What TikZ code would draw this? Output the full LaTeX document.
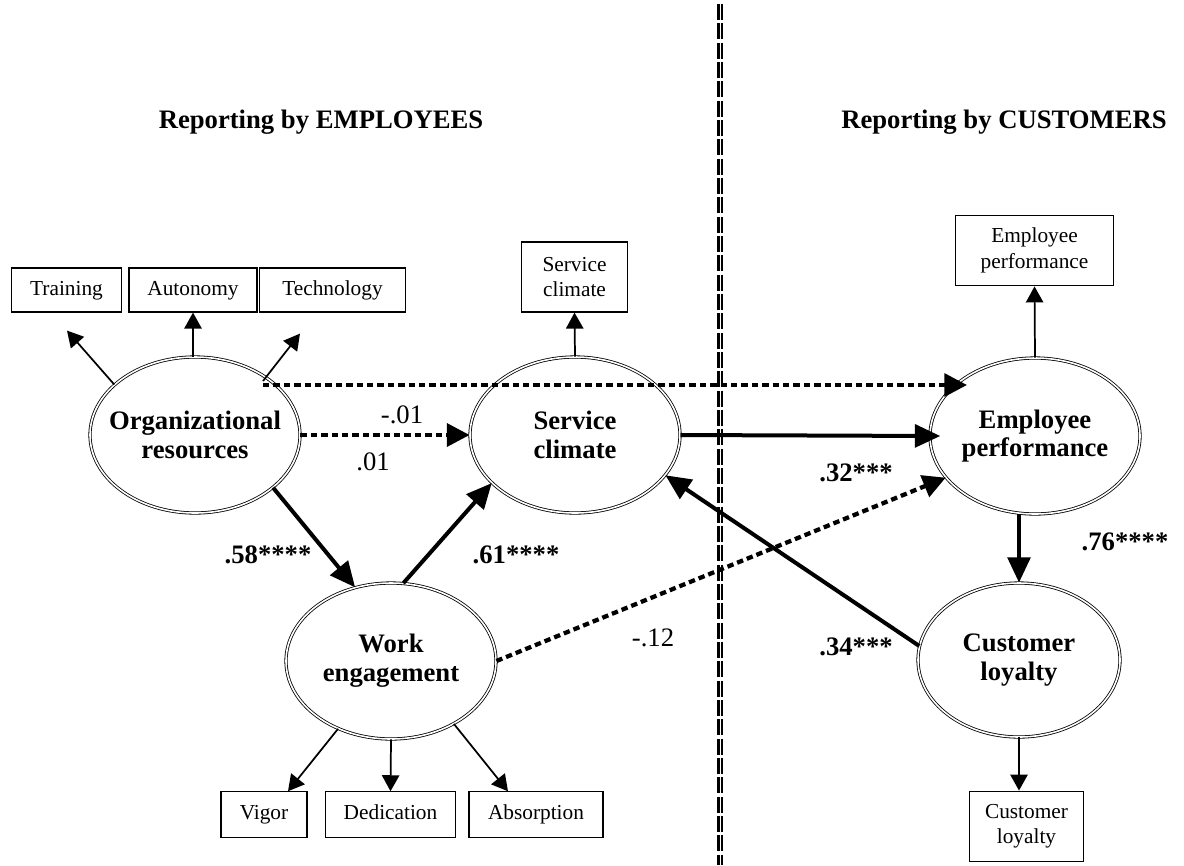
\documentclass[tikz,border=0pt]{standalone}
\usepackage{fontspec}
\setmainfont{Liberation Serif}
\usepackage{tikz}
\usetikzlibrary{arrows.meta,shapes.geometric}
\tikzset{
    %Define style for latent variables
    construct/.style={
           ellipse,
           draw=black, line width=0.6pt,
           double, double distance=1.2pt,
           inner xsep=-20pt,
           minimum width=157.5pt,
           minimum height=117pt,
           font=\fontsize{20}{21.5}\selectfont\bfseries,
           align=center},
    %Define style for indicator boxes
    indicator/.style={
           rectangle,
           draw=black, line width=0.9pt,
           minimum height=33pt,
           inner sep=0pt,
           font=\fontsize{16}{19}\selectfont,
           align=center},
    oneline/.style={
           text height=11pt,
           text depth=3.5pt},
    % Define arrow styles
    loading/.style={
           -{Triangle[length=12pt,width=13pt]},
           line width=1.3pt},
    sig/.style={
           -{Triangle[length=19pt,width=17pt]},
           line width=3pt},
    nonsig/.style={
           -{Triangle[length=17pt,width=17pt]},
           line width=3.2pt,
           dash pattern=on 4.8pt off 3pt},
    coef/.style={font=\fontsize{20}{22}\selectfont\bfseries},
    coefns/.style={font=\fontsize{20}{22}\selectfont},
    header/.style={font=\fontsize{20}{22}\selectfont\bfseries},
    divider/.style={line width=1.6pt, double, double distance=0.6pt,
           dash pattern=on 12pt off 2.5pt}
}
\begin{document}
\begin{tikzpicture}[x=0.75pt,y=-0.75pt]
\useasboundingbox (0,0) rectangle (1184,865);
 %headers and divider
\node[header] (hemp) at (321,122) {Reporting by EMPLOYEES};
\node[header] (hcus) at (1004,122) {Reporting by CUSTOMERS};
\coordinate (dtop) at (720,4);
\coordinate (dbot) at (720,865);
\draw[divider] (dtop) -- (dbot);
 %latent variables
\node[construct] (OR) at (195,435) {Organizational\\resources};
\node[construct] (SC) at (575,435) {Service\\climate};
\node[construct] (EP) at (1035,436) {Employee\\performance};
\node[construct] (WE) at (391,661) {Work\\engagement};
\node[construct, minimum width=151.5pt, minimum height=115.5pt] (CL) at (1019,660) {Customer\\loyalty};
 %indicators
\node[indicator, oneline, minimum width=83pt] (train) at (66.5,290) {Training};
\node[indicator, oneline, minimum width=96pt] (auton) at (193,290) {Autonomy};
\node[indicator, oneline, minimum width=109pt] (techn) at (332.5,290) {Technology};
\node[indicator, minimum width=79pt, minimum height=52.5pt] (scbox) at (574.5,277) {Service\\climate};
\node[indicator, minimum width=118pt, minimum height=53pt] (epbox) at (1034.5,250.5) {Employee\\performance};
\node[indicator, oneline, minimum width=64.5pt, minimum height=34pt] (vigor) at (264,814.5) {Vigor};
\node[indicator, oneline, minimum width=97pt, minimum height=34pt] (dedic) at (390.5,814.5) {Dedication};
\node[indicator, oneline, minimum width=100.5pt, minimum height=34pt] (absor) at (536,814.5) {Absorption};
\node[indicator, minimum width=86pt, minimum height=53pt] (clbox) at (1026.5,826.5) {Customer\\loyalty};
 %loadings
\draw[loading] (OR.148) -- ([shift={(0.5,18)}]train.south);
\draw[loading] (OR.north -| auton.south) -- (auton.south);
\draw[loading] ([shift={(68,-54)}]OR.center) -- ([shift={(-32.5,21)}]techn.south);
\draw[loading] (SC.north) -- (scbox.south);
\draw[loading] (EP.north) -- (epbox.south);
\draw[loading] (WE.-128) -- ([shift={(24,0)}]vigor.north);
\draw[loading] (WE.south) -- (dedic.north);
\draw[loading] (WE.-45) -- ([shift={(-28,0)}]absor.north);
\draw[loading] (CL.south) -- (CL.south |- clbox.north);
 %structural paths
\draw[sig] (OR.-34) -- (WE.116);
\draw[sig] (WE.81) -- (SC.-150);
\draw[sig] (SC.east) -- ([xshift=8pt]EP.west);
\draw[sig] (EP.south -| CL.north) -- (CL.north);
\draw[sig] (CL.172) -- (SC.-24);
\draw[nonsig] ([shift={(68,-50)}]OR.center) -- ([shift={(-68,-51)}]EP.center);
\draw[nonsig] (OR.east) -- (SC.west);
\draw[nonsig] (WE.east) -- (EP.-155);
 %coefficients
\node[coefns] (c1) at (402,415) {-.01};
\node[coefns] (c2) at (373,462) {.01};
\node[coef] (c3) at (268,555) {.58****};
\node[coef] (c4) at (516,555) {.61****};
\node[coefns] (c5) at (653,638) {-.12};
\node[coef] (c6) at (856,473) {.32***};
\node[coef] (c7) at (856,647) {.34***};
\node[coef] (c8) at (1125,542) {.76****};
\end{tikzpicture}
\end{document}
